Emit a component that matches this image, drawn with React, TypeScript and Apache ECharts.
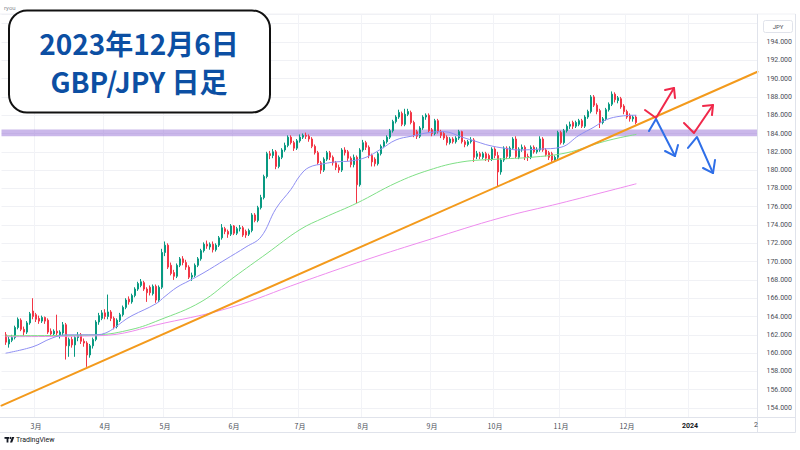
import { useEffect, useRef } from 'react';
import * as echarts from 'echarts';

// Daily GBP/JPY candles, 2023-02-15 .. 2023-12-06 : [open, close, low, high]
const candles: number[][] = [
  // Feb
  [162.0, 161.2, 160.9, 162.3], [161.0, 161.5, 160.6, 161.8], [161.4, 161.7, 161.2, 162.0], [161.7, 162.8, 161.5, 163.0],
  [162.8, 163.7, 162.6, 163.9], [163.6, 162.6, 162.4, 163.8], [162.6, 162.3, 161.9, 162.9], [162.3, 163.3, 162.1, 163.5],
  [163.3, 164.3, 163.1, 164.5], [164.6, 164.0, 163.7, 166.0],
  // Mar
  [164.2, 163.7, 163.4, 164.4], [163.8, 163.5, 163.2, 164.1], [163.5, 163.9, 163.3, 164.1], [163.9, 163.5, 163.2, 164.0],
  [163.6, 162.3, 162.1, 163.8], [162.4, 162.1, 161.8, 162.7], [162.1, 162.4, 161.9, 162.6], [162.4, 162.2, 161.9, 164.2],
  [162.0, 162.3, 161.6, 162.5], [162.2, 163.1, 161.9, 163.4], [163.1, 160.8, 159.3, 163.3], [160.8, 161.5, 159.6, 161.7],
  [161.5, 160.9, 160.6, 161.8], [160.9, 161.7, 159.6, 161.9], [161.7, 161.9, 161.3, 162.3], [162.0, 161.3, 161.0, 162.2],
  [161.3, 161.1, 160.7, 161.6], [161.1, 159.8, 158.5, 161.3], [159.8, 160.8, 159.5, 161.0], [160.8, 161.5, 160.5, 161.7],
  [161.5, 163.4, 161.3, 163.6], [163.4, 164.1, 163.1, 164.4], [163.8, 164.4, 163.6, 164.7],
  // Apr
  [164.4, 164.0, 163.7, 164.8], [164.0, 164.5, 163.7, 166.4], [164.5, 163.8, 163.5, 164.7], [163.8, 162.9, 162.6, 164.0],
  [162.9, 163.6, 162.7, 163.8], [163.6, 164.2, 163.4, 164.4], [164.2, 165.0, 164.0, 165.2], [165.0, 165.8, 164.8, 166.0],
  [165.9, 165.6, 165.3, 166.2], [165.6, 166.3, 165.4, 166.5], [166.3, 167.0, 166.1, 167.2], [167.0, 167.6, 166.8, 167.8],
  [167.4, 167.8, 167.2, 168.1], [167.7, 167.0, 166.8, 167.9], [167.0, 166.6, 165.6, 167.2], [167.2, 166.6, 166.3, 167.4],
  [166.5, 167.3, 166.3, 167.5], [167.3, 165.8, 165.5, 167.5], [165.8, 167.2, 165.6, 167.4], [167.2, 171.0, 167.0, 171.4],
  // May
  [171.0, 171.8, 170.6, 172.2], [171.8, 169.4, 169.2, 172.0], [169.6, 168.7, 168.5, 169.9], [168.8, 168.4, 168.0, 169.1],
  [168.4, 169.6, 168.2, 169.8], [169.6, 170.3, 169.4, 170.5], [170.3, 169.9, 169.6, 170.6], [169.9, 169.4, 169.1, 170.2],
  [169.4, 168.3, 168.1, 169.6], [168.3, 168.5, 167.9, 168.8], [168.5, 169.6, 168.3, 169.8], [169.6, 170.3, 169.4, 170.5],
  [170.3, 171.2, 170.1, 171.4], [171.2, 171.9, 171.0, 172.1], [171.9, 171.7, 171.4, 172.3], [171.6, 171.9, 171.3, 172.1],
  [171.9, 171.3, 171.0, 172.2], [171.3, 171.8, 171.1, 172.0], [171.8, 172.6, 171.6, 172.8], [172.6, 173.7, 172.4, 174.1],
  [173.6, 173.3, 173.0, 173.8], [173.3, 173.0, 172.6, 173.5], [173.0, 173.9, 172.8, 174.1],
  // Jun
  [173.9, 173.1, 172.9, 174.0], [173.1, 173.6, 172.9, 173.8], [173.6, 173.7, 173.3, 174.0], [173.7, 172.9, 172.7, 173.9],
  [173.3, 172.9, 172.6, 173.5], [173.0, 173.4, 172.8, 173.6], [173.4, 175.1, 173.2, 175.3], [175.1, 174.5, 174.3, 175.3],
  [174.5, 175.9, 174.3, 176.1], [175.9, 177.0, 175.7, 177.3], [177.0, 179.3, 176.8, 179.5], [179.3, 181.8, 179.1, 182.0],
  [181.8, 181.6, 181.2, 182.1], [181.6, 182.0, 181.3, 182.3], [182.0, 180.4, 180.1, 182.2], [180.4, 181.4, 180.2, 181.6],
  [181.4, 182.2, 181.2, 182.4], [182.2, 182.7, 182.0, 183.0], [182.7, 183.6, 182.5, 183.8], [183.6, 183.0, 182.8, 183.8],
  [183.0, 182.4, 182.1, 183.2], [182.4, 183.2, 182.2, 183.4],
  // Jul
  [183.2, 183.6, 183.0, 183.9], [183.6, 183.8, 183.4, 184.0], [183.8, 183.7, 183.4, 184.1], [183.7, 183.4, 183.1, 183.9],
  [183.4, 182.6, 182.4, 183.6], [182.6, 181.9, 181.7, 182.8], [181.9, 180.8, 180.6, 182.1], [180.8, 180.0, 179.6, 181.0],
  [180.0, 181.2, 179.8, 181.4], [181.2, 181.9, 181.0, 182.1], [181.9, 181.4, 181.1, 182.1], [181.4, 180.8, 180.5, 181.6],
  [180.8, 180.3, 180.0, 181.0], [180.3, 180.0, 179.7, 180.6], [180.0, 182.2, 179.8, 182.4], [182.2, 181.9, 181.6, 182.5],
  [182.0, 181.3, 181.0, 182.2], [181.3, 180.6, 180.3, 181.5], [180.6, 181.4, 180.3, 181.7], [181.4, 178.4, 176.4, 181.6],
  [178.4, 182.2, 178.2, 182.4],
  // Aug
  [182.2, 183.0, 182.0, 183.3], [183.0, 182.5, 182.2, 183.2], [182.5, 181.6, 181.3, 182.7], [181.6, 180.9, 180.4, 181.8],
  [181.2, 180.7, 180.4, 181.4], [180.7, 181.8, 180.5, 182.0], [181.8, 182.6, 181.6, 182.8], [182.6, 183.1, 182.4, 183.3],
  [183.1, 183.6, 182.9, 183.8], [183.6, 184.3, 183.4, 184.5], [184.3, 185.3, 184.1, 185.5], [185.3, 185.8, 185.1, 186.0],
  [185.8, 186.3, 185.6, 186.6], [186.2, 185.0, 184.8, 186.4], [185.0, 186.1, 184.8, 186.7], [186.1, 186.4, 185.9, 186.7],
  [186.3, 185.2, 185.0, 186.5], [185.2, 183.8, 183.6, 185.4], [184.2, 183.7, 183.4, 184.4], [183.7, 184.6, 183.5, 184.8],
  [184.6, 185.8, 184.4, 186.0], [185.8, 186.0, 185.5, 186.2], [186.0, 184.3, 184.1, 186.2],
  // Sep
  [184.4, 184.0, 183.7, 184.6], [184.0, 185.4, 183.8, 185.6], [185.4, 184.2, 184.0, 185.6], [184.2, 183.8, 183.5, 184.4],
  [184.0, 183.5, 183.3, 184.2], [183.6, 183.0, 182.7, 183.8], [183.0, 183.4, 182.8, 183.6], [183.4, 183.1, 182.9, 183.6],
  [183.1, 183.5, 182.9, 183.7], [183.5, 184.2, 183.3, 184.4], [184.2, 183.1, 182.9, 184.3], [183.1, 182.8, 182.5, 183.3],
  [182.8, 183.1, 182.6, 183.3], [183.1, 183.3, 182.9, 183.6], [183.3, 181.4, 180.9, 183.5], [181.5, 181.8, 181.2, 182.1],
  [181.8, 181.5, 181.2, 182.0], [181.4, 181.8, 181.2, 182.0], [181.8, 181.3, 181.0, 182.0], [181.6, 181.2, 180.9, 181.8],
  [181.2, 182.3, 181.0, 182.5],
  // Oct
  [182.3, 181.6, 181.3, 182.5], [181.6, 179.8, 178.2, 182.0], [179.8, 181.1, 179.5, 181.3], [181.1, 182.4, 180.9, 182.6],
  [182.4, 181.5, 181.2, 182.6], [181.5, 182.4, 181.3, 182.6], [182.4, 183.4, 182.2, 183.6], [183.4, 181.5, 181.3, 183.7],
  [181.4, 182.3, 181.2, 182.5], [182.3, 182.5, 182.0, 182.8], [182.5, 181.4, 181.1, 182.7], [181.5, 181.4, 181.0, 181.8],
  [181.4, 182.5, 181.2, 182.7], [182.5, 182.0, 181.8, 182.7], [182.0, 182.2, 181.8, 182.5], [182.2, 183.4, 182.0, 183.7],
  [183.4, 182.2, 182.0, 183.6], [182.2, 181.7, 181.5, 182.4], [181.9, 181.4, 181.1, 182.1], [181.8, 181.1, 180.9, 182.0],
  [181.1, 181.4, 180.9, 181.6], [181.4, 184.1, 181.2, 184.3],
  // Nov
  [184.1, 183.0, 182.8, 184.3], [183.0, 184.3, 182.8, 184.5], [184.3, 184.8, 184.1, 185.0], [184.8, 185.0, 184.5, 185.3],
  [185.2, 184.8, 184.5, 185.4], [184.8, 185.2, 184.6, 185.4], [185.0, 185.4, 184.8, 185.6], [185.4, 184.8, 184.6, 185.6],
  [184.8, 185.8, 184.6, 186.0], [185.8, 186.4, 185.6, 186.6], [186.4, 188.0, 186.2, 188.2], [188.0, 187.1, 186.9, 188.2],
  [187.1, 186.4, 186.1, 187.3], [186.5, 185.2, 184.6, 186.7], [185.2, 185.6, 185.0, 185.8], [185.6, 186.6, 185.4, 186.8],
  [186.6, 187.2, 186.4, 187.4], [187.2, 188.3, 187.0, 188.6], [188.3, 187.7, 187.4, 188.5], [187.6, 187.9, 187.3, 188.1],
  [187.8, 186.9, 186.7, 188.0], [187.0, 186.4, 186.1, 187.2],
  // Dec
  [186.4, 185.8, 185.6, 186.6], [186.0, 185.6, 185.3, 186.2], [185.6, 185.8, 185.3, 186.0], [185.8, 185.2, 185.0, 186.0],
];

// Time-scale: trading-day index of each month label (index 0 = 2023-02-15)
const monthTickIdx = [10, 33, 53, 76, 98, 119, 142, 163, 185, 207, 228];
const monthTickLabels = ['3月', '4月', '5月', '6月', '7月', '8月', '9月', '10月', '11月', '12月', '2024'];
const totalSlots = 251; // trading days shown (incl. future space up to Feb 2024)

// Moving averages: [day index, price]
const ma25: number[][] = [
  [0, 160.0], [9, 160.7], [15, 161.6], [20, 162.0], [30, 162.0], [42, 164.1], [50, 165.4], [53, 166.2],
  [57, 167.2], [61, 167.9], [66, 168.8], [73, 170.2], [80, 171.6], [85, 172.7], [90, 175.8], [95, 177.9],
  [98, 179.4], [101, 180.3], [106, 180.7], [110, 180.9], [115, 181.0], [120, 181.4], [125, 182.3], [130, 183.3],
  [135, 183.7], [141, 184.1], [146, 184.2], [152, 183.6], [157, 183.1], [161, 182.7], [166, 182.4], [171, 182.2],
  [178, 182.3], [185, 182.5], [191, 183.8], [196, 184.7], [200, 185.5], [205, 185.9], [210, 186.0],
];
const ma75: number[][] = [
  [0, 161.9], [30, 162.0], [42, 162.6], [51, 163.6], [65, 165.6], [76, 168.3], [87, 170.9], [98, 173.5],
  [106, 174.8], [117, 176.4], [130, 178.6], [141, 180.0], [152, 180.9], [164, 181.2], [175, 181.4], [187, 181.9],
  [198, 183.0], [204, 183.5], [210, 183.9],
];
const ma200: number[][] = [
  [0, 161.8], [31, 161.9], [53, 163.3], [75, 165.0], [98, 167.7], [120, 170.2], [141, 172.4], [165, 174.8],
  [185, 176.4], [210, 178.5],
];

// Support trend line and resistance zone
const trendLine: number[][] = [[-1.5, 154.27], [250.5, 190.75]];
const zoneLow = 183.7;
const zoneHigh = 184.45;

// Scenario arrows [day index, price]
const upArrows: number[][][][] = [
  [[[213.0, 186.57], [216.67, 185.69], [222.67, 188.97]], [[219.67, 188.75], [222.67, 188.97], [223.0, 187.88]]],
  [[[226.0, 185.15], [229.33, 184.05], [235.67, 187.11]], [[232.33, 187.01], [235.67, 187.11], [235.33, 186.02]]],
];
const downArrows: number[][][][] = [
  [[[214.33, 184.27], [216.67, 185.58], [223.0, 181.54]], [[219.67, 182.09], [223.0, 181.54], [224.0, 182.74]]],
  [[[227.33, 182.42], [230.33, 183.62], [235.67, 179.68]], [[232.33, 180.23], [235.67, 179.68], [236.33, 181.1]]],
];

const titleLines = ['2023年12月6日', 'GBP/JPY 日足'];

const UP = '#089981';
const DOWN = '#f23645';

export default function App() {
  const ref = useRef<HTMLDivElement>(null);
  useEffect(() => {
    if (!ref.current) return;
    const chart = echarts.init(ref.current, null, { renderer: 'svg' });

    const cats: string[] = [];
    for (let i = 0; i <= totalSlots; i++) cats.push('c' + i);
    const labelMap = new Map<number, string>();
    monthTickIdx.forEach((d, k) => labelMap.set(d + 1, monthTickLabels[k]));

    const candleData = candles.map((c, i) => [i + 1, c[0], c[1], c[2], c[3]]);

    const lineSeries = (data: number[][], color: string, width: number, z = 3, smooth: number | boolean = false) => ({
      type: 'line',
      xAxisIndex: 1,
      yAxisIndex: 0,
      data,
      showSymbol: false,
      symbol: 'none',
      silent: true,
      smooth,
      z,
      lineStyle: { color, width, cap: 'round', join: 'round' },
    });

    const arrowSeries: any[] = [];
    upArrows.forEach((a) => {
      arrowSeries.push(lineSeries(a[0], '#f0284a', 2, 6));
      arrowSeries.push(lineSeries(a[1], '#f0284a', 2, 6));
    });
    downArrows.forEach((a) => {
      arrowSeries.push(lineSeries(a[0], '#2f6fe8', 2, 6));
      arrowSeries.push(lineSeries(a[1], '#2f6fe8', 2, 6));
    });

    const titleStyle = {
      fontSize: 28,
      fontWeight: 'bold',
      fontFamily: "'Noto Sans CJK JP', sans-serif",
      fill: '#0c4fa3',
      textAlign: 'center',
      textVerticalAlign: 'middle',
      align: 'center',
      verticalAlign: 'middle',
    };

    const frame = '#e0e3eb';
    const option: any = {
      animation: false,
      backgroundColor: '#ffffff',
      grid: { left: 1.5, top: 14, width: 756, height: 403, containLabel: false, outerBoundsMode: 'none' },
      xAxis: [
        {
          type: 'category',
          data: cats,
          boundaryGap: true,
          axisLine: { show: false },
          axisTick: { show: false },
          axisLabel: {
            interval: (i: number) => labelMap.has(i),
            formatter: (_v: string, i: number) => {
              const t = labelMap.get(i) || '';
              return t === '2024' ? '{b|2024}' : t;
            },
            margin: 5,
            fontSize: 7,
            color: '#4a4d57',
            fontFamily: "'Noto Sans CJK JP', sans-serif",
            rich: { b: { fontSize: 7, fontWeight: 'bold', color: '#131722', fontFamily: 'Roboto, sans-serif' } },
          },
          splitLine: {
            show: true,
            interval: (i: number) => labelMap.has(i),
            lineStyle: { color: '#f2f3f7', width: 1 },
          },
        },
        { type: 'value', min: -1.5, max: 250.5, show: false },
      ],
      yAxis: {
        type: 'value',
        position: 'right',
        min: 153.02,
        max: 197.06,
        minInterval: 2,
        maxInterval: 2,
        axisLine: { show: false },
        axisTick: { show: false },
        axisLabel: {
          showMinLabel: false,
          showMaxLabel: false,
          formatter: (v: number) => (v >= 153.5 && v <= 194.5 ? v.toFixed(3) : ''),
          margin: 9,
          fontSize: 7,
          color: '#4a4d57',
          fontFamily: 'Roboto, sans-serif',
        },
        splitLine: { lineStyle: { color: '#f0f1f5', width: 1 } },
      },
      series: [
        {
          type: 'candlestick',
          xAxisIndex: 0,
          yAxisIndex: 0,
          data: candleData,
          encode: { x: 0, y: [1, 2, 3, 4] },
          barWidth: 1.6,
          silent: true,
          itemStyle: { color: UP, color0: DOWN, borderColor: UP, borderColor0: DOWN, borderWidth: 1 },
          markArea: {
            silent: true,
            itemStyle: { color: 'rgba(150,112,214,0.5)' },
            data: [[{ yAxis: zoneLow }, { yAxis: zoneHigh }]],
          },
        },
        lineSeries(ma200, '#ee8cee', 1, 3, 0.4),
        lineSeries(ma75, '#7fdf86', 1, 3, 0.4),
        lineSeries(ma25, '#8f8ff2', 1, 3, 0.4),
        lineSeries(trendLine, '#f39a1c', 2, 5),
        ...arrowSeries,
      ],
      graphic: [
        // frame
        { type: 'line', z: 50, shape: { x1: 0, y1: 14, x2: 795.5, y2: 14 }, style: { stroke: '#f0f1f5', lineWidth: 1 } },
        { type: 'line', z: 50, shape: { x1: 0, y1: 417.5, x2: 795.5, y2: 417.5 }, style: { stroke: frame, lineWidth: 1 } },
        { type: 'line', z: 50, shape: { x1: 0, y1: 432.5, x2: 795.5, y2: 432.5 }, style: { stroke: frame, lineWidth: 1 } },
        { type: 'line', z: 50, shape: { x1: 757.5, y1: 14, x2: 757.5, y2: 432.5 }, style: { stroke: frame, lineWidth: 1 } },
        { type: 'line', z: 50, shape: { x1: 795.5, y1: 14, x2: 795.5, y2: 432.5 }, style: { stroke: frame, lineWidth: 1 } },
        // currency box
        { type: 'rect', z: 60, shape: { x: 763.5, y: 20.5, width: 29, height: 12, r: 2 }, style: { fill: '#ffffff', stroke: frame, lineWidth: 1 } },
        { type: 'text', z: 61, x: 778, y: 26.5, style: { text: 'JPY', fontSize: 6, fontFamily: 'Roboto, sans-serif', fill: '#4a4d57', textAlign: 'center', textVerticalAlign: 'middle', align: 'center', verticalAlign: 'middle' } },
        // author text
        { type: 'text', z: 60, x: 4, y: 7, style: { text: 'ryou', fontSize: 6, fontFamily: 'Roboto, sans-serif', fill: '#8a8d96', textVerticalAlign: 'middle', verticalAlign: 'middle' } },
        // title box
        { type: 'rect', z: 80, shape: { x: 9, y: 10.5, width: 261, height: 102, r: 18 }, style: { fill: '#ffffff', stroke: '#111111', lineWidth: 2 } },
        { type: 'text', z: 81, x: 139, y: 43, style: { ...titleStyle, text: titleLines[0] } },
        { type: 'text', z: 81, x: 139, y: 81, style: { ...titleStyle, text: titleLines[1] } },
        // TradingView mark
        { type: 'rect', z: 60, shape: { x: 4.5, y: 437, width: 4.5, height: 1.8 }, style: { fill: '#131722' } },
        { type: 'rect', z: 60, shape: { x: 6.6, y: 437, width: 1.8, height: 5.5 }, style: { fill: '#131722' } },
        { type: 'circle', z: 60, shape: { cx: 10.4, cy: 438, r: 1 }, style: { fill: '#131722' } },
        { type: 'polygon', z: 60, shape: { points: [[12, 437], [14.3, 437], [12.2, 442.5], [10, 442.5]] }, style: { fill: '#131722' } },
        { type: 'text', z: 60, x: 16, y: 440, style: { text: 'TradingView', fontSize: 7, fontFamily: 'Roboto, sans-serif', fill: '#131722', textVerticalAlign: 'middle', verticalAlign: 'middle' } },
        { type: 'text', z: 60, x: 754, y: 425, style: { text: '2', fontSize: 7, fontFamily: 'Roboto, sans-serif', fill: '#4a4d57', textVerticalAlign: 'middle', verticalAlign: 'middle' } },
      ],
    };
    chart.setOption(option);
    return () => chart.dispose();
  }, []);

  return <div ref={ref} style={{ position: 'fixed', left: 0, top: 0, width: 800, height: 450 }} />;
}
